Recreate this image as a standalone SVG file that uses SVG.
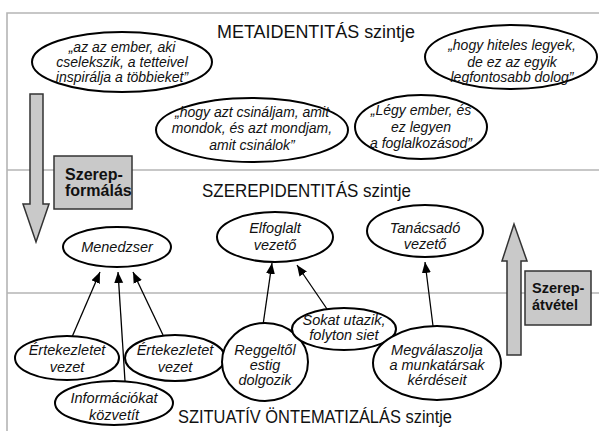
<svg xmlns="http://www.w3.org/2000/svg" width="599" height="431" viewBox="0 0 599 431">
<defs>
<marker id="ah" markerUnits="userSpaceOnUse" markerWidth="12" markerHeight="10" refX="11" refY="4.5" orient="auto">
<path d="M0,0 L11,4.5 L0,9 Z" fill="#000"/>
</marker>
</defs>
<style>
.frame{stroke:#b5b5b5;stroke-width:1.6;fill:none}
.ell{fill:#fff;stroke:#000;stroke-width:2}
.it{font-family:"Liberation Sans",Arial,sans-serif;font-style:italic;font-size:14px;fill:#111;text-anchor:middle}
.it2{font-family:"Liberation Sans",Arial,sans-serif;font-style:italic;font-size:14.5px;fill:#111;text-anchor:middle}
.title{font-family:"Liberation Sans",Arial,sans-serif;font-size:18px;fill:#111}
.big{fill:#c9c9c9;stroke:#333;stroke-width:1.5}
.bold{font-family:"Liberation Sans",Arial,sans-serif;font-weight:bold;fill:#111}
.conn{stroke:#000;stroke-width:1.3;fill:none;marker-end:url(#ah)}
</style>
<rect width="599" height="431" fill="#fff"/>
<g id="frame">
<path class="frame" d="M7,431 V13 H599 M7,170 H599 M7,293 H599"/>
</g>
<g id="titles">
<text id="t-meta" class="title" x="217" y="38" textLength="198" lengthAdjust="spacingAndGlyphs">METAIDENTITÁS szintje</text>
<text id="t-szerep" class="title" x="202" y="197" textLength="209" lengthAdjust="spacingAndGlyphs">SZEREPIDENTITÁS szintje</text>
<text id="t-szit" class="title" x="178" y="423" textLength="274" lengthAdjust="spacingAndGlyphs">SZITUATÍV ÖNTEMATIZÁLÁS szintje</text>
</g>
<g id="arrow-down">
<path class="big" d="M30,94 H43 V204 H49 L36,242 L23,204 H30 Z"/>
</g>
<g id="box-szerepformalas">
<rect class="big" x="54" y="156" width="78" height="53"/>
<text class="bold" x="65" y="180" font-size="16">Szerep-</text>
<text class="bold" x="65" y="196" font-size="16">formálás</text>
</g>
<g id="arrow-up">
<path class="big" d="M507,355 V261 H502 L514,224 L527,261 H521 V355 Z"/>
</g>
<g id="box-szerepatvetel">
<rect class="big" x="525" y="271" width="66" height="54"/>
<text class="bold" x="532" y="293" font-size="14.5">Szerep-</text>
<text class="bold" x="532" y="310" font-size="14.5">átvétel</text>
</g>
<g id="n-ember">
<ellipse class="ell" cx="122" cy="62" rx="90" ry="30"/>
<text class="it" x="122" y="52">„az az ember, aki</text>
<text class="it" x="122" y="67">cselekszik, a tetteivel</text>
<text class="it" x="122" y="82">inspirálja a többieket”</text>
</g>
<g id="n-hogyazt">
<ellipse class="ell" cx="252" cy="130" rx="96" ry="32"/>
<text class="it" x="252" y="117">„hogy azt csináljam, amit</text>
<text class="it" x="252" y="133">mondok, és azt mondjam,</text>
<text class="it" x="252" y="150">amit csinálok”</text>
</g>
<g id="n-legy">
<ellipse class="ell" cx="421" cy="127" rx="66" ry="32"/>
<text class="it" x="421" y="115">„Légy ember, és</text>
<text class="it" x="421" y="132">ez legyen</text>
<text class="it" x="421" y="148">a foglalkozásod”</text>
</g>
<g id="n-hiteles">
<ellipse class="ell" cx="511" cy="57" rx="86" ry="32"/>
<text class="it" x="512" y="50">„hogy hiteles legyek,</text>
<text class="it" x="512" y="67">de ez az egyik</text>
<text class="it" x="512" y="82">legfontosabb dolog”</text>
</g>
<g id="n-menedzser">
<ellipse class="ell" cx="117" cy="247" rx="54" ry="20"/>
<text class="it2" x="117" y="252">Menedzser</text>
</g>
<g id="n-elfoglalt">
<ellipse class="ell" cx="275" cy="237" rx="58" ry="25"/>
<text class="it2" x="275" y="233">Elfoglalt</text>
<text class="it2" x="275" y="250">vezető</text>
</g>
<g id="n-tanacsado">
<ellipse class="ell" cx="425" cy="231" rx="58" ry="26"/>
<text class="it2" x="425" y="233">Tanácsadó</text>
<text class="it2" x="425" y="249">vezető</text>
</g>
<g id="connectors">
<line class="conn" x1="72" y1="337" x2="100" y2="272"/>
<line class="conn" x1="125" y1="381" x2="118" y2="272"/>
<line class="conn" x1="163" y1="335" x2="133" y2="272"/>
<line class="conn" x1="263" y1="325" x2="272" y2="263"/>
<line class="conn" x1="327" y1="309" x2="297" y2="265"/>
<line class="conn" x1="433" y1="326" x2="425" y2="262"/>
</g>
<g id="n-ert1">
<ellipse class="ell" cx="67" cy="358" rx="52" ry="22"/>
<text class="it2" x="67" y="355">Értekezletet</text>
<text class="it2" x="67" y="372">vezet</text>
</g>
<g id="n-ert2">
<ellipse class="ell" cx="175" cy="358" rx="50" ry="23"/>
<text class="it2" x="175" y="355">Értekezletet</text>
<text class="it2" x="175" y="372">vezet</text>
</g>
<g id="n-info">
<ellipse class="ell" cx="114" cy="403" rx="59" ry="22"/>
<text class="it2" x="114" y="403">Információkat</text>
<text class="it2" x="114" y="420">közvetít</text>
</g>
<g id="n-reggel">
<ellipse class="ell" cx="265" cy="362" rx="43" ry="39"/>
<text class="it2" x="265" y="355">Reggeltől</text>
<text class="it2" x="265" y="370">estig</text>
<text class="it2" x="265" y="385">dolgozik</text>
</g>
<g id="n-sokat">
<ellipse class="ell" cx="344" cy="329" rx="52" ry="21"/>
<text class="it2" x="344" y="325">Sokat utazik,</text>
<text class="it2" x="344" y="340">folyton siet</text>
</g>
<g id="n-megval">
<ellipse class="ell" cx="437" cy="363" rx="64" ry="37"/>
<text class="it2" x="437" y="355">Megválaszolja</text>
<text class="it2" x="437" y="370">a munkatársak</text>
<text class="it2" x="437" y="385">kérdéseit</text>
</g>
</svg>
